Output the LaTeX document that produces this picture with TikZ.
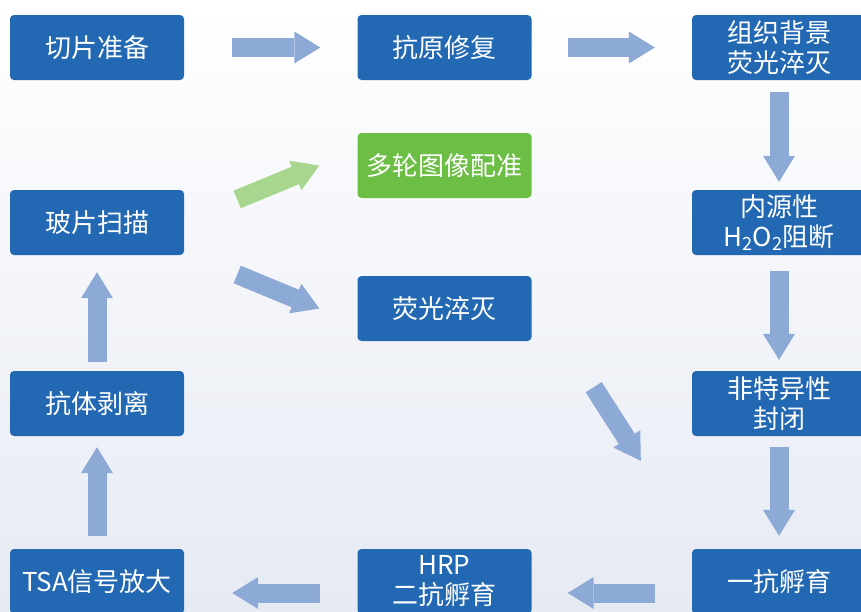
\documentclass[tikz,border=0pt]{standalone}
\usepackage{fontspec}
\setmainfont{Noto Sans CJK SC}
\usetikzlibrary{arrows.meta,positioning}

\definecolor{boxblue}{HTML}{2268B3}
\definecolor{boxgreen}{HTML}{6CBE45}
\definecolor{flowblue}{HTML}{8DA9D6}
\definecolor{flowgreen}{HTML}{A9D68F}
\definecolor{bgbottom}{HTML}{E6EAF3}

\begin{document}
\begin{tikzpicture}[x=1pt,y=-1pt,
	box/.style={rectangle, rounded corners=4pt, fill=boxblue, text=white, minimum width=174pt, minimum height=65pt, inner sep=0pt, align=center, font=\fontsize{26}{30}\selectfont},
	flow/.style={draw=flowblue, line width=19pt, -{Triangle[length=26pt,width=32pt,line width=0pt]}},
	]
	\useasboundingbox (0,0) rectangle (861,611);
	\shade[top color=white, middle color=white, bottom color=bgbottom] (0,0) rectangle (861,611);
	
	% left column
	\node[box] (cut) at (97,47.5) {切片准备};
	\node[box] (scan) at (97,222.5) {玻片扫描};
	\node[box] (strip) at (97,403.5) {抗体剥离};
	\node[box] (tsa) at (97,581.5) {TSA信号放大};
	% middle column
	\node[box] (ag) at (444.5,47.5) {抗原修复};
	\node[box, fill=boxgreen] (reg) at (444.5,165.5) {多轮图像配准};
	\node[box] (fq) at (444.5,308.5) {荧光淬灭};
	\node[box] (hrp) at (444.5,581.5) {HRP\\二抗孵育};
	% right column
	\node[box] (bgq) at (779,47.5) {组织背景\\荧光淬灭};
	\node[box] (endo) at (779,222.5) {内源性\\H\textsubscript{2}O\textsubscript{2}阻断};
	\node[box] (nsb) at (779,403.5) {非特异性\\封闭};
	\node[box] (pri) at (779,581.5) {一抗孵育};
	
	\draw[flow] ([xshift=48pt]cut.east) -- ([xshift=-37pt]ag.west);
	\draw[flow] ([xshift=36pt]ag.east) -- ([xshift=-37pt]bgq.west);
	\draw[flow] ([yshift=-12pt]bgq.south) -- ([yshift=8pt]endo.north);
	\draw[flow] ([yshift=-16pt]endo.south) -- ([yshift=11pt]nsb.north);
	\draw[flow] ([yshift=-11pt]nsb.south) -- ([yshift=13pt]pri.north);
	\draw[flow] ([shift={(-37pt,-11.5pt)}]pri.west) -- ([shift={(36pt,-11.5pt)}]hrp.east);
	\draw[flow] ([shift={(-37pt,-11.5pt)}]hrp.west) -- ([shift={(48pt,-11.5pt)}]tsa.east);
	\draw[flow] ([yshift=13pt]tsa.north) -- ([yshift=-11pt]strip.south);
	\draw[flow] ([yshift=9pt]strip.north) -- ([yshift=-17pt]scan.south);
	\draw[flow, draw=flowgreen] ([shift={(53pt,23pt)}]scan.east) -- ([xshift=-38pt]reg.west);
	\draw[flow] ([shift={(53pt,-52pt)}]scan.east) -- ([xshift=-38pt]fq.west);
	\draw[flow] ([shift={(62pt,-46pt)}]fq.south east) -- ([shift={(-51pt,88pt)}]pri.north west);
\end{tikzpicture}
\end{document}
